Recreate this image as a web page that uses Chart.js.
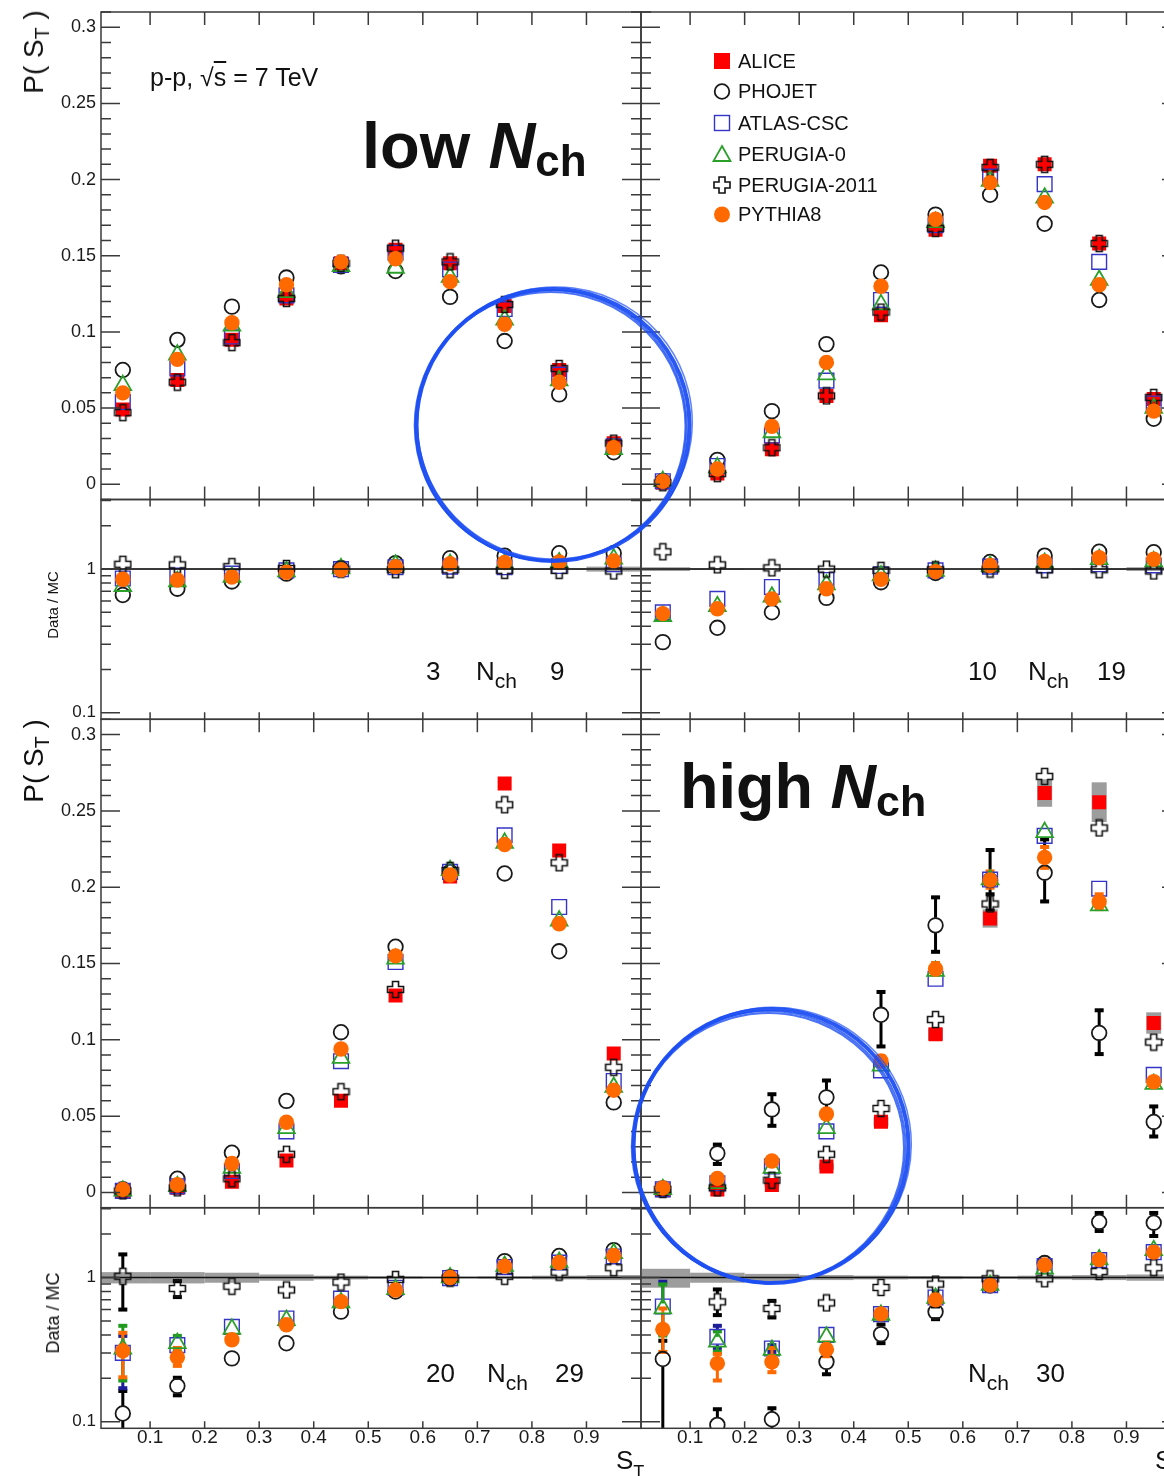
<!DOCTYPE html>
<html><head><meta charset="utf-8">
<script src="https://cdn.jsdelivr.net/npm/chart.js@4.4.1/dist/chart.umd.min.js"></script>
<style>
html,body{margin:0;padding:0;background:#fff;overflow:hidden;}
#wrap{position:relative;width:1164px;height:1476px;overflow:hidden;background:#fff;font-family:"Liberation Sans",Arial,Helvetica,sans-serif;color:#111;}
#wrap canvas{position:absolute;left:0;top:0;}
.t{position:absolute;white-space:nowrap;line-height:1;}
.rot{position:absolute;white-space:nowrap;line-height:1;transform:translate(-50%,-50%) rotate(-90deg);}
.sub{position:relative;font-size:0.7em;top:0.32em;}
#ov{position:absolute;left:0;top:0;pointer-events:none;}
</style></head><body><div id="wrap">
<canvas id="c1"></canvas><canvas id="c2"></canvas><canvas id="c3"></canvas><canvas id="c4"></canvas>
<canvas id="c5"></canvas><canvas id="c6"></canvas><canvas id="c7"></canvas><canvas id="c8"></canvas>

<div class="rot" style="left:34px;top:52px;font-size:28px">P( S<span class="sub">T</span> )</div>
<div class="rot" style="left:34px;top:761px;font-size:28px">P( S<span class="sub">T</span> )</div>
<div class="rot" style="left:52px;top:605px;font-size:15px">Data / MC</div>
<div class="rot" style="left:53px;top:1313px;font-size:18px">Data / MC</div>

<div class="t" style="left:150px;top:65px;font-size:25px">p-p, √<span style="text-decoration:overline">s</span> = 7 TeV</div>
<div class="t" style="left:362px;top:113px;font-size:65px;font-weight:bold">low <i>N</i><span style="font-size:44px;position:relative;top:8px">ch</span></div>
<div class="t" style="left:680px;top:755px;font-size:63px;font-weight:bold">high <i>N</i><span style="font-size:43px;position:relative;top:8px">ch</span></div>

<div class="t" style="left:426px;top:658px;font-size:26px">3</div>
<div class="t" style="left:476px;top:658px;font-size:26px">N<span style="font-size:21px;position:relative;top:8px">ch</span></div>
<div class="t" style="left:550px;top:658px;font-size:26px">9</div>

<div class="t" style="left:968px;top:658px;font-size:26px">10</div>
<div class="t" style="left:1028px;top:658px;font-size:26px">N<span style="font-size:21px;position:relative;top:8px">ch</span></div>
<div class="t" style="left:1097px;top:658px;font-size:26px">19</div>

<div class="t" style="left:426px;top:1360px;font-size:26px">20</div>
<div class="t" style="left:487px;top:1360px;font-size:26px">N<span style="font-size:21px;position:relative;top:8px">ch</span></div>
<div class="t" style="left:555px;top:1360px;font-size:26px">29</div>

<div class="t" style="left:968px;top:1360px;font-size:26px">N<span style="font-size:21px;position:relative;top:8px">ch</span></div>
<div class="t" style="left:1036px;top:1360px;font-size:26px">30</div>

<div class="t" style="left:616px;top:1447px;font-size:26px">S<span style="font-size:18px;position:relative;top:9px">T</span></div>
<div class="t" style="left:1155px;top:1447px;font-size:26px">S<span style="font-size:18px;position:relative;top:9px">T</span></div>

<div class="t" style="left:738px;top:51px;font-size:20px">ALICE</div>
<div class="t" style="left:738px;top:81px;font-size:20px">PHOJET</div>
<div class="t" style="left:738px;top:113px;font-size:20px">ATLAS-CSC</div>
<div class="t" style="left:738px;top:144px;font-size:20px">PERUGIA-0</div>
<div class="t" style="left:738px;top:175px;font-size:20px">PERUGIA-2011</div>
<div class="t" style="left:738px;top:204px;font-size:20px">PYTHIA8</div>

<svg id="ov" width="1164" height="1476" viewBox="0 0 1164 1476">
  <rect x="714" y="53" width="16" height="16" fill="#ff0000"/>
  <circle cx="722" cy="91.5" r="7.3" fill="none" stroke="#1a1a1a" stroke-width="1.8"/>
  <rect x="714.5" y="115.5" width="15" height="15" fill="none" stroke="#3434c8" stroke-width="1.4"/>
  <polygon points="722,146 730.5,161 713.5,161" fill="none" stroke="#2a9f2a" stroke-width="1.8"/>
  <path d="M719,177 h6 v5 h5 v6 h-5 v5 h-6 v-5 h-5 v-6 h5 z" fill="none" stroke="#111" stroke-width="1.6"/>
  <circle cx="722" cy="214.5" r="8" fill="#ff6a00"/>
  <g fill="none" stroke="#1d4ff2">
    <ellipse cx="553" cy="425" rx="136.5" ry="136" stroke-width="4" stroke-opacity="0.95"/>
    <ellipse cx="551" cy="426" rx="136" ry="135.5" stroke-width="2" stroke-opacity="0.8" transform="rotate(10 553 424)"/>
    <ellipse cx="555" cy="423.5" rx="137.5" ry="136" stroke-width="1.5" stroke-opacity="0.7" transform="rotate(-14 553 424)"/>
    <ellipse cx="550.5" cy="426.5" rx="135" ry="134.5" stroke-width="2" stroke-opacity="0.8"/>
    <ellipse cx="771" cy="1146" rx="137.5" ry="137" stroke-width="4" stroke-opacity="0.95"/>
    <ellipse cx="769" cy="1147.5" rx="137" ry="136" stroke-width="2" stroke-opacity="0.8" transform="rotate(12 771 1146)"/>
    <ellipse cx="773" cy="1145" rx="138.5" ry="137.5" stroke-width="1.5" stroke-opacity="0.7" transform="rotate(-9 771 1146)"/>
    <ellipse cx="768.5" cy="1148" rx="135.5" ry="135" stroke-width="2" stroke-opacity="0.8"/>
  </g>
</svg>
</div>
<script>
// ---------------- DATA ----------------
const binCenters = [0.05,0.15,0.25,0.35,0.45,0.55,0.65,0.75,0.85,0.95];
const binHalf = 0.05;
const mainTicks = [0,0.05,0.1,0.15,0.2,0.25,0.3];
const mainTickLabels = ['0','0.05','0.1','0.15','0.2','0.25','0.3'];
const ratioTicks = [0.1,1];
const ratioTickLabels = ['0.1','1'];
const xTicks = [0.1,0.2,0.3,0.4,0.5,0.6,0.7,0.8,0.9];
const xTickLabels = ['0.1','0.2','0.3','0.4','0.5','0.6','0.7','0.8','0.9'];

// 3 <= Nch <= 9 : P(S_T)
const n3ALICE  = [0.049,0.0685,0.0948,0.122,0.145,0.154,0.145,0.117,0.075,0.027];
const n3PHOJET = [0.075,0.0948,0.1166,0.1357,0.143,0.140,0.123,0.094,0.059,0.021];
const n3ATLAS  = [0.054,0.076,0.097,0.124,0.144,0.152,0.141,0.115,0.072,0.025];
const n3P0     = [0.065,0.085,0.104,0.126,0.143,0.142,0.136,0.108,0.068,0.023];
const n3P2011  = [0.047,0.067,0.093,0.122,0.145,0.155,0.146,0.118,0.076,0.027];
const n3PY8    = [0.060,0.082,0.106,0.131,0.146,0.148,0.133,0.105,0.067,0.024];
// 3 <= Nch <= 9 : Data/MC
const n3R_PHOJET = [0.66,0.73,0.82,0.93,1.01,1.10,1.19,1.24,1.29,1.29];
const n3R_ATLAS  = [0.86,0.90,0.93,0.98,1.0,1.03,1.04,1.03,1.05,1.08];
const n3R_P0     = [0.76,0.82,0.88,0.96,1.01,1.07,1.08,1.09,1.11,1.18];
const n3R_P2011  = [1.08,1.07,1.04,1.01,1.0,0.99,0.99,0.98,0.98,0.97];
const n3R_PY8    = [0.85,0.84,0.88,0.95,0.99,1.04,1.09,1.11,1.12,1.14];
const n3R_band   = [0.012,0.012,0.012,0.012,0.01,0.01,0.01,0.012,0.015,0.04];

// 10 <= Nch <= 19 : P(S_T)
const n10ALICE  = [0.001,0.007,0.023,0.058,0.111,0.167,0.209,0.210,0.158,0.056];
const n10PHOJET = [0.002,0.016,0.048,0.092,0.139,0.177,0.190,0.171,0.121,0.043];
const n10ATLAS  = [0.002,0.012,0.032,0.068,0.121,0.170,0.202,0.197,0.146,0.053];
const n10P0     = [0.002,0.011,0.034,0.072,0.118,0.172,0.199,0.188,0.134,0.050];
const n10P2011  = [0.001,0.007,0.024,0.058,0.113,0.168,0.208,0.210,0.158,0.057];
const n10PY8    = [0.002,0.010,0.038,0.080,0.130,0.174,0.198,0.185,0.131,0.048];
// 10 <= Nch <= 19 : Data/MC
const n10R_PHOJET = [0.31,0.39,0.50,0.63,0.81,0.94,1.12,1.24,1.32,1.31];
const n10R_ATLAS  = [0.50,0.62,0.75,0.84,0.92,0.98,1.04,1.06,1.08,1.06];
const n10R_P0     = [0.47,0.55,0.64,0.78,0.90,0.97,1.05,1.10,1.17,1.13];
const n10R_P2011  = [1.32,1.07,1.02,1.0,0.98,0.99,1.0,0.99,0.99,0.97];
const n10R_PY8    = [0.49,0.53,0.62,0.73,0.85,0.96,1.06,1.13,1.20,1.17];
const n10R_band   = [0.03,0.015,0.012,0.01,0.01,0.01,0.01,0.012,0.015,0.03];

// 20 <= Nch <= 29 : P(S_T)
const n20ALICE  = [0.001,0.003,0.007,0.021,0.060,0.129,0.207,0.268,0.224,0.091];
const n20PHOJET = [0.002,0.009,0.026,0.060,0.105,0.161,0.210,0.209,0.158,0.059];
const n20ATLAS  = [0.001,0.004,0.014,0.040,0.086,0.151,0.210,0.234,0.187,0.073];
const n20P0     = [0.001,0.004,0.016,0.042,0.088,0.153,0.211,0.229,0.178,0.069];
const n20P2011  = [0.001,0.003,0.009,0.025,0.066,0.133,0.211,0.254,0.216,0.082];
const n20PY8    = [0.002,0.005,0.019,0.046,0.094,0.155,0.208,0.228,0.176,0.067];
// 20 <= Nch <= 29 : Data/MC
const n20R_PHOJET = [0.114,0.177,0.275,0.35,0.58,0.80,0.99,1.30,1.41,1.55];
const n20R_ATLAS  = [0.30,0.34,0.455,0.52,0.715,0.85,0.99,1.18,1.27,1.40];
const n20R_P0     = [0.32,0.35,0.44,0.506,0.67,0.83,1.0,1.2,1.28,1.47];
const n20R_P2011  = [1.02,0.84,0.87,0.82,0.93,0.97,0.99,1.02,1.09,1.17];
const n20R_PY8    = [0.31,0.28,0.37,0.47,0.68,0.82,1.0,1.2,1.27,1.42];
const n20R_band   = [0.09,0.09,0.08,0.05,0.03,0.02,0.015,0.02,0.03,0.04];
const n20R_PHOJETerr = [[0.08,0.166],[0.15,0.205],null,null,null,null,null,null,null,null];
const n20R_P2011err  = [[0.59,1.47],[0.72,0.96],null,null,null,null,null,null,null,null];
const n20R_P0err     = [[0.19,0.47],[0.30,0.40],null,null,null,null,null,null,null,null];
const n20R_ATLASerr  = [[0.168,0.40],null,null,null,null,null,null,null,null,null];
const n20R_PY8err    = [[0.20,0.42],[0.24,0.33],null,null,null,null,null,null,null,null];

// Nch >= 30 : P(S_T)
const n30ALICE  = [0.0015,0.002,0.0049,0.017,0.0463,0.1036,0.1795,0.2617,0.2557,0.111];
const n30PHOJET = [0.002,0.0256,0.0544,0.0623,0.1164,0.175,0.2045,0.2095,0.1045,0.0462];
const n30ATLAS  = [0.002,0.006,0.017,0.040,0.080,0.140,0.205,0.2336,0.199,0.077];
const n30P0     = [0.002,0.006,0.016,0.042,0.083,0.145,0.205,0.236,0.188,0.071];
const n30P2011  = [0.002,0.003,0.008,0.025,0.055,0.1133,0.189,0.2726,0.2388,0.0985];
const n30PY8    = [0.003,0.0092,0.0206,0.0514,0.0861,0.1464,0.2047,0.2195,0.1905,0.0725];
const n30ALICEsys  = [0.0005,0.001,0.0015,0.002,0.003,0.004,0.006,0.009,0.013,0.007];
const n30PHOJETerr = [null,[0.018,0.032],[0.043,0.065],[0.051,0.074],[0.095,0.132],[0.157,0.194],[0.184,0.225],[0.190,0.232],[0.090,0.120],[0.036,0.057]];
const n30PY8err    = [null,null,null,null,[0.082,0.090],[0.142,0.151],[0.199,0.211],[0.212,0.227],[0.185,0.196],[0.069,0.076]];
const n30P2011err  = [null,null,null,null,null,null,[0.182,0.196],null,null,null];
// Nch >= 30 : Data/MC
const n30R_PHOJET = [0.272,0.095,0.104,0.26,0.405,0.578,0.88,1.26,2.43,2.40];
const n30R_ATLAS  = [0.63,0.388,0.322,0.40,0.557,0.727,0.885,1.2,1.32,1.5];
const n30R_P0     = [0.61,0.358,0.314,0.388,0.55,0.72,0.885,1.15,1.33,1.545];
const n30R_P2011  = [null,0.678,0.61,0.667,0.853,0.90,0.98,0.98,1.10,1.17];
const n30R_PY8    = [0.437,0.254,0.26,0.317,0.56,0.70,0.885,1.22,1.33,1.5];
const n30R_band   = [0.15,0.08,0.06,0.04,0.03,0.025,0.02,0.03,0.04,0.05];
const n30R_PHOJETerr = [[0.08,0.37],[0.08,0.124],[0.08,0.126],[0.21,0.314],[0.345,0.48],[0.506,0.64],null,null,[2.07,2.85],[1.91,2.85]];
const n30R_P2011err  = [null,[0.54,0.84],[0.52,0.70],null,null,null,null,null,null,null];
const n30R_P0err     = [[0.39,0.91],[0.30,0.43],null,null,null,null,null,null,null,null];
const n30R_ATLASerr  = [[0.40,0.95],[0.32,0.47],[0.30,0.345],null,null,null,null,null,null,null];
const n30R_PY8err    = [[0.30,0.62],[0.19,0.30],[0.217,0.33],[0.28,0.36],null,null,null,null,null,null];

// ---------------- STYLE / BUILD ----------------
const FONT = "'Liberation Sans', Arial, Helvetica, sans-serif";
const CW = 1200, CH = 1476;
Chart.defaults.font.family = FONT;

function makeCross() {
  const c = document.createElement('canvas'); c.width = 19; c.height = 19;
  const g = c.getContext('2d'); const m = 9.5, a = 3, L = 8;
  g.beginPath();
  g.moveTo(m-a,m-L); g.lineTo(m+a,m-L); g.lineTo(m+a,m-a); g.lineTo(m+L,m-a); g.lineTo(m+L,m+a);
  g.lineTo(m+a,m+a); g.lineTo(m+a,m+L); g.lineTo(m-a,m+L); g.lineTo(m-a,m+a); g.lineTo(m-L,m+a);
  g.lineTo(m-L,m-a); g.lineTo(m-a,m-a); g.closePath();
  g.lineWidth = 1.6; g.strokeStyle = '#111'; g.stroke();
  return c;
}
const crossImg = makeCross();
const NONE = 'rgba(0,0,0,0)';
const styles = {
  ALICE:  {ps:'rect', r:9.9, bg:'#ff0000', bc:'#ff0000', bw:0, order:5, gap:7},
  PHOJET: {ps:'circle', r:7.3, bg:NONE, bc:'#1a1a1a', bw:1.8, order:4, gap:7.5},
  ATLAS:  {ps:'rect', r:10.4, bg:NONE, bc:'#3434c8', bw:1.4, order:3, gap:7.5},
  P0:     {ps:'triangle', r:9.6, bg:NONE, bc:'#2a9f2a', bw:1.8, order:2, gap:5},
  P2011:  {ps:crossImg, r:9, bg:NONE, bc:'#111', bw:1, order:1, gap:8},
  PY8:    {ps:'circle', r:7.7, bg:'#ff6a00', bc:'#ff6a00', bw:0, order:0, gap:0}
};
const errColors = {PHOJET:'#000', P2011:'#000', P0:'#1f9a1f', ATLAS:'#1d1d9a', PY8:'#ff6a00'};

function pts(arr) {
  return binCenters.map((x,i) => arr[i] == null ? null : {x:x, y:arr[i]}).filter(Boolean);
}
function ds(key, arr) {
  const s = styles[key];
  return {label:key, data:pts(arr), showLine:false, pointStyle:s.ps, pointRadius:s.r, pointHoverRadius:s.r,
    pointBackgroundColor:s.bg, pointBorderColor:s.bc, pointBorderWidth:s.bw, backgroundColor:s.bg,
    borderColor:s.bc, order:s.order};
}

const mainMarks = []; for (let k=-1;k<=31;k++) mainMarks.push({v:k/100, major:k%5===0});
const ratioMarks = [0.1,0.2,0.3,0.4,0.5,0.6,0.7,0.8,0.9,1,2,3].map(v => ({v:v, major:(v===0.1||v===1)}));

function decor(spec) {
  return {
    id:'decor',
    beforeDatasetsDraw(chart) {
      const {ctx, chartArea:a} = chart; const xs = chart.scales.x, ys = chart.scales.y;
      ctx.save();
      ctx.beginPath(); ctx.rect(a.left, a.top, a.right-a.left, a.bottom-a.top); ctx.clip();
      ctx.fillStyle = '#9d9d9d';
      if (spec.band) spec.band.forEach((e,i) => {
        const x0 = xs.getPixelForValue(binCenters[i]-binHalf), x1 = xs.getPixelForValue(binCenters[i]+binHalf);
        const y0 = ys.getPixelForValue(1+e), y1 = ys.getPixelForValue(1-e);
        ctx.fillRect(x0, y0, x1-x0, Math.max(y1-y0, 1));
      });
      if (spec.sys) spec.sys.err.forEach((e,i) => {
        const v = spec.sys.val[i]; const xc = xs.getPixelForValue(binCenters[i]);
        const y0 = ys.getPixelForValue(v+e), y1 = ys.getPixelForValue(v-e);
        ctx.fillRect(xc-7.5, y0, 15, y1-y0);
      });
      (spec.errors||[]).forEach(eb => {
        ctx.fillStyle = eb.color;
        eb.vals.forEach((r,i) => {
          if (!r || eb.center[i] == null) return;
          const xc = xs.getPixelForValue(binCenters[i]);
          const yHi = ys.getPixelForValue(r[1]), yLo = ys.getPixelForValue(r[0]);
          const yc = ys.getPixelForValue(eb.center[i]);
          const g = eb.gap;
          if (yc - g > yHi) ctx.fillRect(xc-1.5, yHi, 3, (yc-g)-yHi);
          if (yLo > yc + g) ctx.fillRect(xc-1.5, yc+g, 3, yLo-(yc+g));
          ctx.fillRect(xc-4.5, yHi-1, 9, 4);
          ctx.fillRect(xc-4.5, yLo-3, 9, 4);
        });
      });
      ctx.restore();
    },
    afterDatasetsDraw(chart) {
      if (spec.kind !== 'ratio') return;
      const {ctx, chartArea:a} = chart; const p = chart.scales.y.getPixelForValue(1);
      ctx.save(); ctx.strokeStyle = '#111'; ctx.lineWidth = 1.6;
      ctx.beginPath(); ctx.moveTo(a.left, p); ctx.lineTo(a.right, p); ctx.stroke(); ctx.restore();
    },
    afterDraw(chart) {
      const {ctx, chartArea:a} = chart; const xs = chart.scales.x, ys = chart.scales.y;
      ctx.save(); ctx.strokeStyle = '#3a3a3a'; ctx.lineWidth = 1.5;
      ctx.strokeRect(a.left, a.top, a.right-a.left, a.bottom-a.top);
      ctx.beginPath();
      const xtl = spec.kind === 'ratio' ? 7 : 13;
      xTicks.concat([1.0]).forEach(v => {
        const p = xs.getPixelForValue(v); if (p <= a.left+1 || p >= a.right-1) return;
        ctx.moveTo(p, a.top); ctx.lineTo(p, a.top+xtl); ctx.moveTo(p, a.bottom); ctx.lineTo(p, a.bottom-xtl);
      });
      (spec.kind === 'ratio' ? ratioMarks : mainMarks).forEach(m => {
        const p = ys.getPixelForValue(m.v); if (p < a.top-0.5 || p > a.bottom+0.5) return;
        const len = m.major ? 19 : 10;
        ctx.moveTo(a.left, p); ctx.lineTo(a.left+len, p); ctx.moveTo(a.right, p); ctx.lineTo(a.right-len, p);
      });
      ctx.stroke(); ctx.restore();
    }
  };
}

function build(spec) {
  const [L,T,R,B] = spec.area;
  const isRatio = spec.kind === 'ratio';
  const showY = spec.side === 'left';
  const showX = !!spec.showX;
  const canvas = document.getElementById(spec.id);
  canvas.width = CW; canvas.height = CH; canvas.style.width = CW+'px'; canvas.style.height = CH+'px';
  const y = {
    type: isRatio ? 'logarithmic' : 'linear',
    min: isRatio ? 0.09 : -0.01, max: isRatio ? 3.05 : 0.31,
    display: showY, position:'left',
    grid:{display:false, drawTicks:false}, border:{display:false},
    ticks:{autoSkip:false, padding:5, color:'#1a1a1a', font:{family:FONT, size: isRatio ? 17 : 18},
      callback:(v,i) => (isRatio ? ratioTickLabels : mainTickLabels)[i]},
    afterBuildTicks: s => { s.ticks = (isRatio ? ratioTicks : mainTicks).map(v => ({value:v})); }
  };
  if (showY) y.afterFit = s => { s.width = L; s.paddingTop = 0; s.paddingBottom = 0; };
  const x = {
    type:'linear', min:0.01, max:1.0, display: showX, position:'bottom',
    grid:{display:false, drawTicks:false}, border:{display:false},
    ticks:{autoSkip:false, padding:0, maxRotation:0, color:'#1a1a1a', font:{family:FONT, size:19, lineHeight:1},
      callback:(v,i) => xTickLabels[i]},
    afterBuildTicks: s => { s.ticks = xTicks.map(v => ({value:v})); }
  };
  if (showX) x.afterFit = s => { s.height = 30; s.paddingLeft = 0; s.paddingRight = 0; };
  const padding = {
    left: showY ? 0 : L, top: T, right: CW - R,
    bottom: showX ? (CH - B - 30) : (CH - B)
  };
  return new Chart(canvas, {
    type:'scatter',
    data:{datasets: spec.series.map(s => ds(s[0], s[1]))},
    options:{
      responsive:false, animation:false, devicePixelRatio:1, events:[],
      layout:{padding:padding},
      scales:{x:x, y:y},
      plugins:{legend:{display:false}, tooltip:{enabled:false}}
    },
    plugins:[decor(spec)]
  });
}

const rowTopMain = [12, 499.5], rowTopRatio = [499.5, 719.3], rowBotMain = [719.3, 1207.7], rowBotRatio = [1207.7, 1428.3];
const colL = [101, 641], colR = [641, 1181];
function area(col, row) { return [col[0], row[0], col[1], row[1]]; }
const eb = (key, vals, center) => ({color: errColors[key], vals: vals, center: center, gap: styles[key].gap});

build({id:'c1', area:area(colL,rowTopMain), kind:'main', side:'left',
  series:[['ALICE',n3ALICE],['PHOJET',n3PHOJET],['ATLAS',n3ATLAS],['P0',n3P0],['P2011',n3P2011],['PY8',n3PY8]]});
build({id:'c2', area:area(colL,rowTopRatio), kind:'ratio', side:'left', band:n3R_band,
  series:[['PHOJET',n3R_PHOJET],['ATLAS',n3R_ATLAS],['P0',n3R_P0],['P2011',n3R_P2011],['PY8',n3R_PY8]]});
build({id:'c3', area:area(colR,rowTopMain), kind:'main', side:'right',
  series:[['ALICE',n10ALICE],['PHOJET',n10PHOJET],['ATLAS',n10ATLAS],['P0',n10P0],['P2011',n10P2011],['PY8',n10PY8]]});
build({id:'c4', area:area(colR,rowTopRatio), kind:'ratio', side:'right', band:n10R_band,
  series:[['PHOJET',n10R_PHOJET],['ATLAS',n10R_ATLAS],['P0',n10R_P0],['P2011',n10R_P2011],['PY8',n10R_PY8]]});
build({id:'c5', area:area(colL,rowBotMain), kind:'main', side:'left',
  series:[['ALICE',n20ALICE],['PHOJET',n20PHOJET],['ATLAS',n20ATLAS],['P0',n20P0],['P2011',n20P2011],['PY8',n20PY8]]});
build({id:'c6', area:area(colL,rowBotRatio), kind:'ratio', side:'left', showX:true, band:n20R_band,
  errors:[eb('PHOJET',n20R_PHOJETerr,n20R_PHOJET),eb('ATLAS',n20R_ATLASerr,n20R_ATLAS),eb('P0',n20R_P0err,n20R_P0),
          eb('P2011',n20R_P2011err,n20R_P2011),eb('PY8',n20R_PY8err,n20R_PY8)],
  series:[['PHOJET',n20R_PHOJET],['ATLAS',n20R_ATLAS],['P0',n20R_P0],['P2011',n20R_P2011],['PY8',n20R_PY8]]});
build({id:'c7', area:area(colR,rowBotMain), kind:'main', side:'right',
  sys:{val:n30ALICE, err:n30ALICEsys},
  errors:[eb('PHOJET',n30PHOJETerr,n30PHOJET),eb('P2011',n30P2011err,n30P2011),eb('PY8',n30PY8err,n30PY8)],
  series:[['ALICE',n30ALICE],['PHOJET',n30PHOJET],['ATLAS',n30ATLAS],['P0',n30P0],['P2011',n30P2011],['PY8',n30PY8]]});
build({id:'c8', area:area(colR,rowBotRatio), kind:'ratio', side:'right', showX:true, band:n30R_band,
  errors:[eb('PHOJET',n30R_PHOJETerr,n30R_PHOJET),eb('ATLAS',n30R_ATLASerr,n30R_ATLAS),eb('P0',n30R_P0err,n30R_P0),
          eb('P2011',n30R_P2011err,n30R_P2011),eb('PY8',n30R_PY8err,n30R_PY8)],
  series:[['PHOJET',n30R_PHOJET],['ATLAS',n30R_ATLAS],['P0',n30R_P0],['P2011',n30R_P2011],['PY8',n30R_PY8]]});
</script>
</body></html>
